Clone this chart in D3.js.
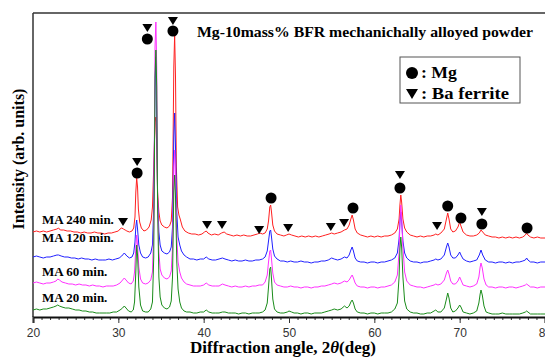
<!DOCTYPE html>
<html>
<head>
<meta charset="utf-8">
<script src="https://cdn.jsdelivr.net/npm/d3@7"></script>
<style>
  body { margin: 0; background: #fff; }
  svg { display: block; }
  .serif { font-family: "Liberation Serif", "DejaVu Serif", serif; font-weight: bold; fill: #000; }
</style>
</head>
<body>
<div id="chart"></div>
<script>
// Diffraction patterns, [2theta, intensity (arb.)], offsets already included
const ma240 = [[20.0,85],[20.4,86],[20.8,85],[21.2,86],[21.6,85],[22.0,86],[22.4,87],[22.8,88],[23.0,89],[23.2,87],[23.6,87],[24.0,86],[24.4,86],[24.8,85],[25.2,85],[25.6,84],[26.0,85],[26.4,84],[26.8,84],[27.2,85],[27.6,84],[28.0,84],[28.4,83],[28.8,84],[29.2,84],[29.6,85],[30.0,86],[30.2,88],[30.4,89],[30.6,88],[30.8,87],[31.0,86],[31.3,85],[31.6,86],[31.8,89],[31.95,100],[32.05,125],[32.15,139],[32.25,130],[32.35,108],[32.5,95],[32.7,89],[33.0,86],[33.3,87],[33.6,90],[33.85,97],[34.0,110],[34.15,150],[34.3,195],[34.4,200],[34.5,170],[34.6,125],[34.75,105],[34.9,96],[35.1,92],[35.4,90],[35.7,89],[36.0,91],[36.2,96],[36.35,120],[36.5,250],[36.6,282],[36.7,240],[36.8,150],[36.95,110],[37.1,102],[37.25,98],[37.5,90],[37.8,86],[38.2,84],[38.6,83],[39.0,83],[39.4,82],[39.8,83],[40.1,85],[40.3,86],[40.5,84],[40.9,82],[41.3,83],[41.7,82],[42.1,84],[42.4,85],[42.7,83],[43.1,82],[43.5,81],[43.9,82],[44.3,81],[44.7,82],[45.1,81],[45.5,81],[45.9,82],[46.3,83],[46.6,84],[46.9,83],[47.2,84],[47.45,88],[47.6,96],[47.75,110],[47.85,112],[47.95,105],[48.1,92],[48.3,86],[48.6,83],[49.0,82],[49.4,81],[49.7,82],[50.0,83],[50.3,82],[50.7,81],[51.1,80],[51.5,81],[51.9,80],[52.3,81],[52.7,80],[53.1,81],[53.5,80],[53.9,81],[54.3,82],[54.7,83],[55.0,84],[55.3,83],[55.7,84],[56.1,85],[56.5,87],[56.8,88],[57.05,92],[57.25,98],[57.4,102],[57.55,97],[57.75,88],[58.0,84],[58.4,82],[58.8,81],[59.2,80],[59.6,81],[60.0,80],[60.4,81],[60.8,80],[61.2,81],[61.6,81],[62.0,82],[62.4,84],[62.7,88],[62.9,98],[63.0,112],[63.1,122],[63.2,115],[63.35,98],[63.55,89],[63.8,85],[64.2,82],[64.6,81],[65.0,80],[65.4,81],[65.8,80],[66.2,81],[66.6,81],[67.0,82],[67.2,83],[67.45,82],[67.8,84],[68.2,88],[68.45,98],[68.6,104],[68.75,98],[68.95,88],[69.2,85],[69.5,86],[69.8,90],[70.0,95],[70.15,91],[70.4,85],[70.8,82],[71.2,81],[71.6,81],[72.0,82],[72.3,84],[72.5,87],[72.7,85],[73.0,82],[73.4,81],[73.8,80],[74.2,80],[74.6,79],[75.0,80],[75.4,79],[75.8,80],[76.2,79],[76.6,80],[77.0,79],[77.4,80],[77.7,82],[77.85,84],[78.0,82],[78.3,80],[78.7,79],[79.1,80],[79.5,79],[80.0,79]];

const ma120 = [[20.0,60],[20.4,61],[20.8,60],[21.2,59],[21.6,60],[22.0,60],[22.4,61],[22.8,62],[23.0,62],[23.3,61],[23.7,60],[24.1,60],[24.5,59],[24.9,59],[25.3,58],[25.7,59],[26.1,58],[26.5,58],[26.9,57],[27.3,58],[27.7,57],[28.1,57],[28.5,57],[28.9,58],[29.3,57],[29.7,58],[30.1,59],[30.4,61],[30.7,64],[31.0,61],[31.3,59],[31.6,60],[31.8,64],[31.95,75],[32.05,90],[32.15,97],[32.25,88],[32.4,72],[32.6,64],[32.85,60],[33.2,59],[33.5,60],[33.8,64],[34.0,72],[34.15,110],[34.3,230],[34.4,260],[34.5,200],[34.6,120],[34.75,85],[34.9,72],[35.1,66],[35.4,64],[35.7,63],[36.0,65],[36.2,70],[36.35,90],[36.5,180],[36.6,204],[36.7,170],[36.85,105],[37.0,80],[37.2,72],[37.4,66],[37.7,62],[38.0,60],[38.4,58],[38.8,58],[39.2,57],[39.6,58],[40.0,58],[40.3,60],[40.6,58],[41.0,57],[41.4,57],[41.8,58],[42.2,59],[42.5,58],[42.9,57],[43.3,56],[43.7,57],[44.1,56],[44.5,56],[44.9,57],[45.3,56],[45.7,56],[46.1,57],[46.5,57],[46.9,58],[47.2,60],[47.45,66],[47.6,76],[47.75,86],[47.85,87],[47.95,80],[48.1,68],[48.3,61],[48.6,58],[49.0,56],[49.4,56],[49.8,55],[50.2,56],[50.6,55],[51.0,55],[51.4,56],[51.8,55],[52.2,55],[52.6,54],[53.0,55],[53.4,55],[53.8,56],[54.2,56],[54.6,57],[55.0,59],[55.3,58],[55.7,57],[56.1,58],[56.5,60],[56.8,59],[57.05,62],[57.25,67],[57.4,70],[57.55,66],[57.75,59],[58.0,56],[58.4,55],[58.8,55],[59.2,54],[59.6,55],[60.0,55],[60.4,54],[60.8,55],[61.2,55],[61.6,56],[62.0,57],[62.4,59],[62.7,64],[62.9,78],[63.0,95],[63.1,105],[63.2,96],[63.35,76],[63.55,64],[63.8,59],[64.2,56],[64.6,55],[65.0,55],[65.4,54],[65.8,55],[66.2,55],[66.6,56],[67.0,57],[67.2,58],[67.45,57],[67.8,58],[68.2,62],[68.45,70],[68.6,74],[68.75,70],[68.95,62],[69.2,59],[69.5,59],[69.8,62],[70.0,65],[70.15,62],[70.4,58],[70.8,56],[71.2,55],[71.6,56],[72.0,57],[72.3,62],[72.5,67],[72.7,62],[73.0,57],[73.4,55],[73.8,55],[74.2,54],[74.6,55],[75.0,55],[75.4,54],[75.8,55],[76.2,54],[76.6,55],[77.0,55],[77.4,56],[77.7,57],[77.85,59],[78.0,57],[78.3,55],[78.7,55],[79.1,54],[79.5,55],[80.0,55]];

const ma60 = [[20.0,34],[20.4,35],[20.8,34],[21.2,33],[21.6,34],[22.0,34],[22.4,35],[22.7,36],[22.9,38],[23.1,37],[23.4,35],[23.8,34],[24.2,33],[24.6,33],[25.0,32],[25.4,33],[25.8,32],[26.2,32],[26.6,31],[27.0,32],[27.4,31],[27.8,31],[28.2,30],[28.6,31],[29.0,31],[29.4,31],[29.8,32],[30.2,34],[30.5,37],[30.7,39],[30.9,37],[31.2,34],[31.5,33],[31.75,36],[31.9,45],[32.05,70],[32.15,82],[32.25,72],[32.4,50],[32.6,38],[32.85,34],[33.2,33],[33.5,34],[33.8,37],[34.0,45],[34.15,90],[34.3,270],[34.4,295],[34.5,250],[34.6,120],[34.75,65],[34.9,48],[35.1,42],[35.4,39],[35.7,38],[36.0,40],[36.2,46],[36.35,70],[36.5,150],[36.6,167],[36.7,140],[36.85,80],[37.0,55],[37.2,45],[37.4,39],[37.7,35],[38.0,33],[38.4,32],[38.8,31],[39.2,31],[39.6,31],[40.0,32],[40.3,34],[40.6,32],[41.0,31],[41.4,31],[41.8,31],[42.2,33],[42.5,32],[42.9,31],[43.3,30],[43.7,31],[44.1,30],[44.5,30],[44.9,31],[45.3,30],[45.7,31],[46.1,31],[46.5,32],[46.9,32],[47.2,35],[47.45,42],[47.6,55],[47.75,66],[47.85,67],[47.95,58],[48.1,44],[48.3,35],[48.6,32],[49.0,31],[49.4,30],[49.8,30],[50.2,31],[50.6,30],[51.0,30],[51.4,29],[51.8,30],[52.2,30],[52.6,29],[53.0,30],[53.4,30],[53.8,31],[54.2,31],[54.6,32],[55.0,33],[55.3,34],[55.7,33],[56.1,34],[56.5,36],[56.8,35],[57.05,37],[57.25,40],[57.4,42],[57.55,39],[57.75,34],[58.0,31],[58.4,30],[58.8,30],[59.2,29],[59.6,30],[60.0,30],[60.4,29],[60.8,30],[61.2,30],[61.6,31],[62.0,32],[62.4,35],[62.7,42],[62.9,65],[63.0,95],[63.1,112],[63.2,100],[63.35,70],[63.55,45],[63.8,36],[64.2,32],[64.6,31],[65.0,30],[65.4,30],[65.8,29],[66.2,30],[66.6,31],[67.0,32],[67.2,33],[67.45,32],[67.8,33],[68.2,37],[68.45,44],[68.6,47],[68.75,43],[68.95,36],[69.2,33],[69.5,33],[69.8,36],[70.0,40],[70.15,37],[70.4,32],[70.8,31],[71.2,30],[71.6,31],[72.0,33],[72.25,40],[72.4,50],[72.5,54],[72.65,49],[72.85,38],[73.1,32],[73.4,30],[73.8,30],[74.2,29],[74.6,30],[75.0,30],[75.4,29],[75.8,30],[76.2,30],[76.6,29],[77.0,30],[77.4,31],[77.7,32],[77.85,33],[78.0,32],[78.3,30],[78.7,30],[79.1,29],[79.5,30],[80.0,30]];

const ma20 = [[20.0,7],[20.4,8],[20.8,7],[21.2,8],[21.6,8],[22.0,9],[22.4,10],[22.7,11],[22.9,12],[23.1,11],[23.4,10],[23.8,9],[24.2,9],[24.6,8],[25.0,7],[25.4,7],[25.8,6],[26.2,6],[26.6,5],[27.0,5],[27.4,4],[27.8,4],[28.2,4],[28.6,4],[29.0,4],[29.4,5],[29.8,5],[30.2,7],[30.5,9],[30.7,11],[30.9,9],[31.2,6],[31.5,5],[31.75,7],[31.9,15],[32.05,45],[32.15,72],[32.25,62],[32.4,30],[32.6,12],[32.85,6],[33.2,5],[33.5,5],[33.8,8],[34.0,15],[34.15,60],[34.3,240],[34.4,267],[34.5,230],[34.6,110],[34.75,40],[34.9,20],[35.1,12],[35.4,9],[35.7,8],[36.0,10],[36.2,16],[36.35,40],[36.5,125],[36.6,142],[36.7,120],[36.85,55],[37.0,28],[37.2,15],[37.4,9],[37.7,6],[38.0,5],[38.4,5],[38.8,4],[39.2,4],[39.6,5],[40.0,5],[40.3,7],[40.6,5],[41.0,4],[41.4,4],[41.8,4],[42.2,5],[42.5,5],[42.9,4],[43.3,4],[43.7,4],[44.1,3],[44.5,4],[44.9,4],[45.3,3],[45.7,4],[46.1,4],[46.5,4],[46.9,5],[47.2,7],[47.45,14],[47.6,30],[47.75,48],[47.85,50],[47.95,38],[48.1,18],[48.3,8],[48.6,5],[49.0,4],[49.4,4],[49.8,5],[50.0,6],[50.3,5],[50.6,4],[51.0,4],[51.4,3],[51.8,4],[52.2,4],[52.6,3],[53.0,4],[53.4,4],[53.8,4],[54.2,5],[54.6,6],[55.0,7],[55.3,8],[55.7,7],[56.1,8],[56.5,11],[56.8,9],[57.05,11],[57.25,15],[57.4,17],[57.55,14],[57.75,8],[58.0,5],[58.4,4],[58.8,4],[59.2,3],[59.6,4],[60.0,4],[60.4,3],[60.8,4],[61.2,4],[61.6,4],[62.0,5],[62.4,8],[62.7,14],[62.9,40],[63.0,68],[63.1,80],[63.2,70],[63.35,40],[63.55,16],[63.8,8],[64.2,5],[64.6,4],[65.0,4],[65.4,3],[65.8,3],[66.2,4],[66.6,4],[67.0,6],[67.2,7],[67.45,5],[67.8,5],[68.2,9],[68.45,18],[68.6,24],[68.75,19],[68.95,9],[69.2,5],[69.5,6],[69.8,9],[70.0,12],[70.15,10],[70.4,5],[70.8,4],[71.2,3],[71.6,4],[72.0,6],[72.25,14],[72.4,23],[72.5,27],[72.65,22],[72.85,11],[73.1,5],[73.4,4],[73.8,3],[74.2,3],[74.6,3],[75.0,4],[75.4,3],[75.8,3],[76.2,3],[76.6,3],[77.0,3],[77.4,4],[77.7,5],[77.85,6],[78.0,5],[78.3,3],[78.7,3],[79.1,3],[79.5,3],[80.0,3]];

const seriesNames = ['MA 240 min.', 'MA 120 min.', 'MA 60 min.', 'MA 20 min.'];
const seriesColors = ['#ff2020', '#2020ff', '#ff30ff', '#1a8c1a'];

// peak markers [2theta, intensity]
const mgMarks = [[32.2,144],[33.4,278],[36.4,286],[47.9,119],[57.5,109],[63.0,129],[68.6,111],[70.15,99],[72.6,93],[77.9,89]];
const bfMarks = [[30.55,95],[32.2,155],[33.4,289],[36.4,296],[40.4,92],[42.15,92],[46.5,87],[49.9,89],[54.9,90],[56.45,94],[63.0,142],[67.35,91],[72.6,105]];

const xTicks = [20, 30, 40, 50, 60, 70, 80];
const title = 'Mg-10mass% BFR mechanichally alloyed powder';

const W = 545, H = 358;
const margin = { top: 13, right: 0, bottom: 41, left: 33 };

const svg = d3.select('#chart').append('svg')
  .attr('width', W).attr('height', H);

const x = d3.scaleLinear().domain([20, 80]).range([margin.left, W - margin.right]);
const y = d3.scaleLinear().domain([0, 304]).range([H - margin.bottom, margin.top]);

// frame
svg.append('line').attr('x1', margin.left).attr('x2', W).attr('y1', margin.top).attr('y2', margin.top)
  .attr('stroke', '#333').attr('stroke-width', 1.5);
svg.append('line').attr('x1', margin.left).attr('x2', margin.left).attr('y1', margin.top).attr('y2', H - margin.bottom)
  .attr('stroke', '#333').attr('stroke-width', 1.5);

// series
const line = d3.line().x(d => x(d[0])).y(d => y(d[1]));
[ma240, ma120, ma60, ma20].forEach((s, i) => {
  svg.append('path').datum(s)
    .attr('fill', 'none')
    .attr('stroke', seriesColors[i])
    .attr('stroke-width', 1)
    .attr('stroke-linejoin', 'round')
    .attr('d', line);
});

// x axis
const xAxis = svg.append('g').attr('transform', `translate(0,${H - margin.bottom})`);
xAxis.call(d3.axisBottom(x).ticks(60).tickSize(3).tickFormat(''))
  .call(g => g.select('.domain').remove())
  .selectAll('line').attr('stroke', '#333');
const xMajor = svg.append('g').attr('transform', `translate(0,${H - margin.bottom})`);
xMajor.call(d3.axisBottom(x).tickValues(xTicks).tickSize(6).tickPadding(5))
  .call(g => g.select('.domain').attr('stroke', '#111').attr('stroke-width', 2))
  .selectAll('text').attr('font-family', 'Arial, "Liberation Sans", sans-serif').attr('font-size', 12).attr('fill', '#333');
xMajor.selectAll('line').attr('stroke', '#333');

// markers
const tri = 'M-5,-4L5,-4L0,4Z';
svg.append('g').selectAll('circle').data(mgMarks).join('circle')
  .attr('cx', d => x(d[0])).attr('cy', d => y(d[1])).attr('r', 5.5).attr('fill', '#000');
svg.append('g').selectAll('path').data(bfMarks).join('path')
  .attr('transform', d => `translate(${x(d[0])},${y(d[1])})`).attr('d', tri).attr('fill', '#000');

// series labels
const labelY = [224, 242, 276, 302];
svg.append('g').selectAll('text').data(seriesNames).join('text')
  .attr('class', 'serif').attr('x', 42).attr('y', (d, i) => labelY[i])
  .attr('font-size', 13).text(d => d);

// title
svg.append('text').attr('class', 'serif').attr('x', 197).attr('y', 37)
  .attr('font-size', 15).attr('textLength', 336).attr('lengthAdjust', 'spacingAndGlyphs').text(title);

// legend
const lg = svg.append('g').attr('transform', 'translate(400,57)');
lg.append('rect').attr('width', 120).attr('height', 46).attr('fill', '#fff').attr('stroke', '#555');
lg.append('circle').attr('cx', 12).attr('cy', 16).attr('r', 6).attr('fill', '#000');
lg.append('text').attr('class', 'serif').attr('x', 21).attr('y', 21).attr('font-size', 16)
  .attr('textLength', 36).attr('lengthAdjust', 'spacingAndGlyphs').text(': Mg');
lg.append('path').attr('transform', 'translate(12,37)').attr('d', 'M-6,-5L6,-5L0,5Z').attr('fill', '#000');
lg.append('text').attr('class', 'serif').attr('x', 21).attr('y', 42).attr('font-size', 16)
  .attr('textLength', 88).attr('lengthAdjust', 'spacingAndGlyphs').text(': Ba ferrite');

// axis titles
svg.append('text').attr('class', 'serif').attr('text-anchor', 'middle')
  .attr('transform', 'translate(24,159) rotate(-90)').attr('font-size', 16)
  .text('Intensity (arb. units)');
const xt = svg.append('text').attr('class', 'serif').attr('text-anchor', 'middle')
  .attr('x', 283).attr('y', 353).attr('font-size', 17);
xt.append('tspan').text('Diffraction angle, 2');
xt.append('tspan').attr('font-style', 'italic').text('θ');
xt.append('tspan').text('(deg)');
</script>
</body>
</html>
